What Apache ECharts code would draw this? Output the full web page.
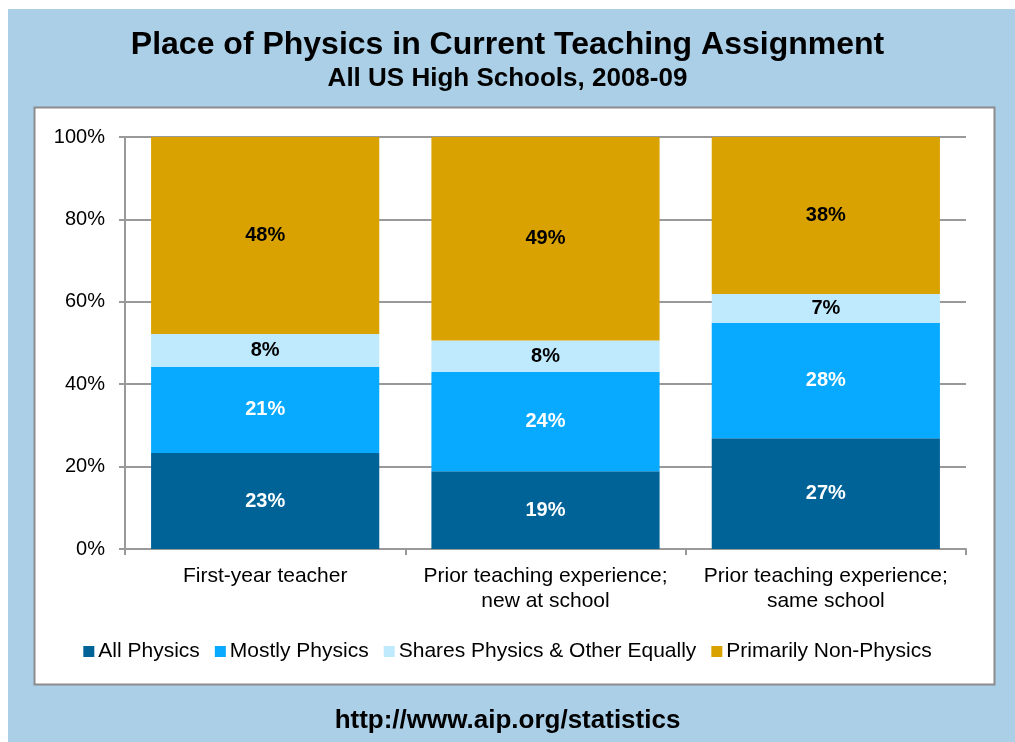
<!DOCTYPE html>
<html>
<head>
<meta charset="utf-8">
<script src="https://cdn.jsdelivr.net/npm/echarts@6/dist/echarts.min.js"></script>
<style>
  html, body { margin: 0; padding: 0; background: #fff; }
  #chart { width: 1015px; height: 742px; }
</style>
</head>
<body>
<div id="chart"></div>
<script>
// categories + stacked shares (labels are rounded)
var categories = [
  "First-year teacher",
  "Prior teaching experience;\nnew at school",
  "Prior teaching experience;\nsame school"
];
var allPhysics = [23.3, 18.9, 26.9];
var mostlyPhysics = [20.9, 24.1, 28.0];
var sharesEqually = [8.0, 7.6, 7.0];
var nonPhysics = [47.8, 49.4, 38.1];
var yTicks = [0, 20, 40, 60, 80, 100];

var FONT = "Liberation Sans, Arial, sans-serif";

function seg(name, data, color, labelColor) {
  return {
    name: name,
    type: "bar",
    stack: "all",
    data: data,
    barCategoryGap: "18.6%",
    itemStyle: { color: color },
    label: {
      show: true,
      position: "inside",
      color: labelColor,
      fontFamily: FONT,
      fontWeight: "bold",
      fontSize: 20,
      formatter: function (p) { return Math.round(p.value) + "%"; }
    }
  };
}

var chart = echarts.init(document.getElementById("chart"));
chart.setOption({
  backgroundColor: "#fff",
  animation: false,
  graphic: [
    // blue page background
    { type: "rect", z: -10, shape: { x: 8, y: 9, width: 1007, height: 733 }, style: { fill: "#AACFE7" } },
    // white chart panel
    { type: "rect", z: -9, shape: { x: 34.5, y: 107.5, width: 960, height: 577 },
      style: { fill: "#fff", stroke: "#8c8c8c", lineWidth: 2 } },
    { type: "text", left: "center", top: 29, style: { text: "Place of Physics in Current Teaching Assignment",
      font: "bold 32px " + FONT, fill: "#000" } },
    { type: "text", left: "center", top: 66, style: { text: "All US High Schools, 2008-09",
      font: "bold 26px " + FONT, fill: "#000" } },
    { type: "text", left: "center", top: 708, style: { text: "http://www.aip.org/statistics",
      font: "bold 26px " + FONT, fill: "#000" } }
  ],
  legend: {
    top: 636,
    left: "center",
    itemWidth: 11,
    itemHeight: 11,
    itemGap: 15,
    icon: "rect",
    textStyle: { fontFamily: FONT, fontSize: 21, color: "#000", padding: [0, 0, 0, -1] },
    data: ["All Physics", "Mostly Physics", "Shares Physics & Other Equally", "Primarily Non-Physics"]
  },
  grid: { left: 125, right: 49, top: 137, bottom: 193 },
  xAxis: {
    type: "category",
    data: categories,
    axisLine: { lineStyle: { color: "#999", width: 2 } },
    axisTick: { show: true, length: 6, lineStyle: { color: "#999", width: 2 } },
    axisLabel: { interval: 0, hideOverlap: false, fontFamily: FONT, fontSize: 21, color: "#000",
      margin: 15, lineHeight: 25 }
  },
  yAxis: {
    type: "value",
    min: yTicks[0],
    max: yTicks[yTicks.length - 1],
    interval: 20,
    axisLine: { show: true, lineStyle: { color: "#999", width: 2 } },
    axisTick: { show: true, length: 6, lineStyle: { color: "#999", width: 2 } },
    splitLine: { lineStyle: { color: "#999", width: 2 } },
    axisLabel: { fontFamily: FONT, fontSize: 20, color: "#000", margin: 20,
      formatter: function (v) { return v + "%"; } }
  },
  series: [
    seg("All Physics", allPhysics, "#006398", "#fff"),
    seg("Mostly Physics", mostlyPhysics, "#08AAFF", "#fff"),
    seg("Shares Physics & Other Equally", sharesEqually, "#BFE9FD", "#000"),
    seg("Primarily Non-Physics", nonPhysics, "#D9A200", "#000")
  ]
});
</script>
</body>
</html>
